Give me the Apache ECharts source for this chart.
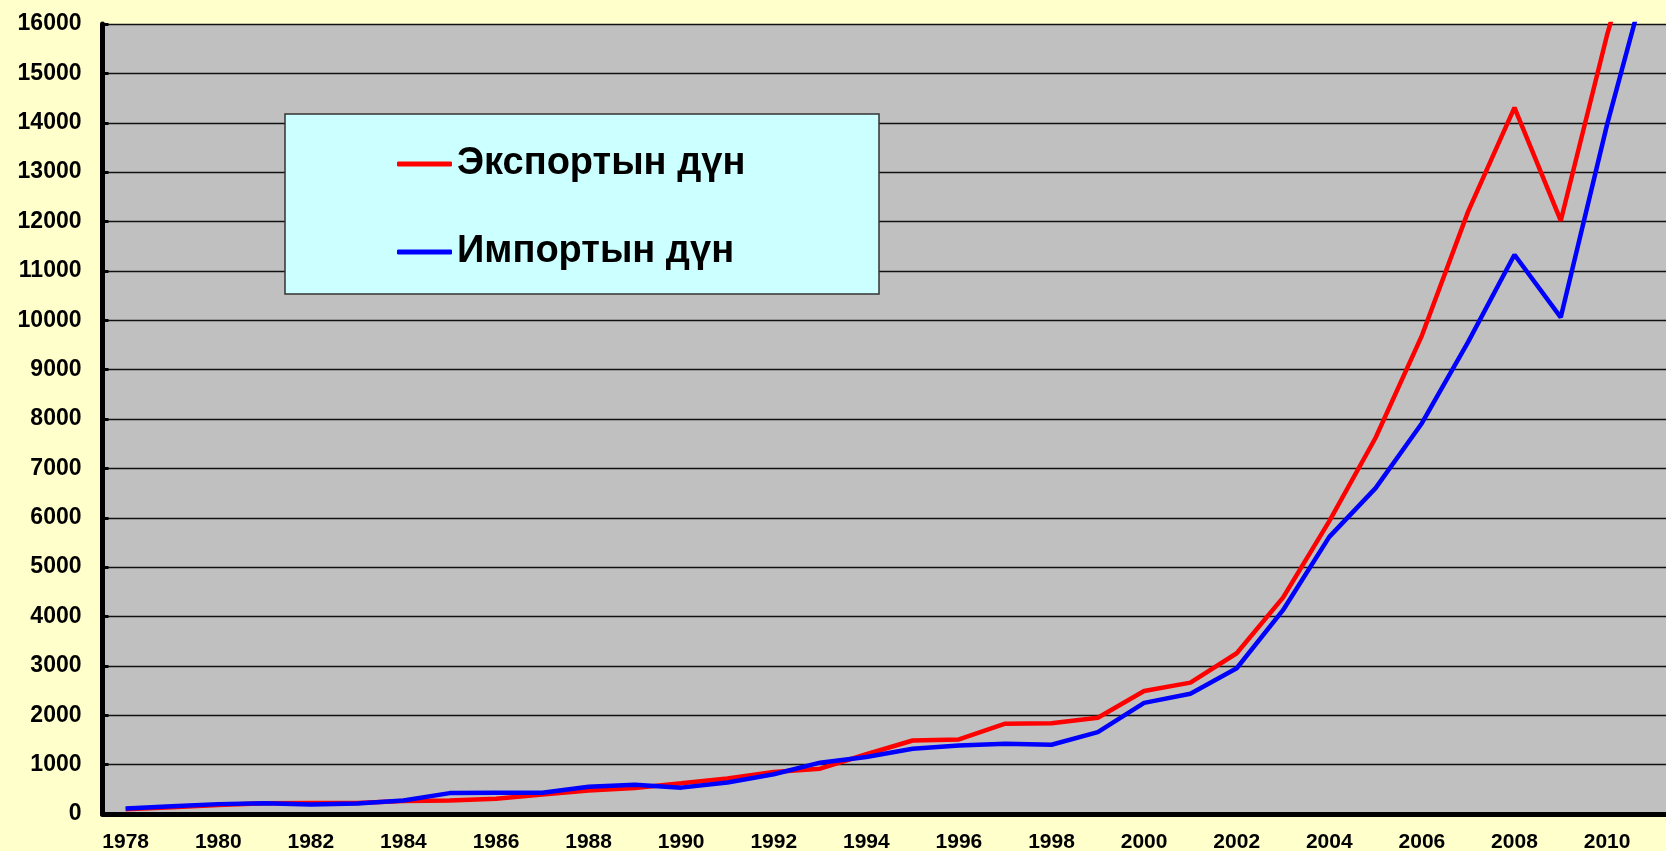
<!DOCTYPE html>
<html>
<head>
<meta charset="utf-8">
<script src="https://cdn.jsdelivr.net/npm/echarts@6/dist/echarts.min.js"></script>
<style>
html,body{margin:0;padding:0;background:#FFFFCC;}
#c{width:1666px;height:851px;}
</style>
</head>
<body>
<div id="c"></div>
<script>
const years = ['1978','1979','1980','1981','1982','1983','1984','1985','1986','1987','1988','1989','1990','1991','1992','1993','1994','1995','1996','1997','1998','1999','2000','2001','2002','2003','2004','2005','2006','2007','2008','2009','2010','2011'];
const exportsVal = [98,137,181,220,223,222,261,274,309,394,475,525,621,719,849,917,1210,1488,1511,1828,1837,1949,2492,2661,3256,4382,5933,7620,9690,12205,14307,12016,15778,18984];
const importsVal = [109,157,200,220,193,214,274,423,429,432,553,591,534,638,806,1040,1156,1321,1388,1424,1402,1657,2251,2436,2952,4128,5612,6600,7915,9561,11326,10059,13962,17435];
const seriesNames = ['Экспортын дүн','Импортын дүн'];
const yTicks = {min:0, max:16000, interval:1000};

const font = '"Liberation Sans", Arial, sans-serif';
const chart = echarts.init(document.getElementById('c'));
chart.setOption({
  backgroundColor:'#FFFFCC',
  animation:false,
  grid:{left:102.5, top:24, bottom:37, width:1574, outerBoundsMode:'none', containLabel:false, show:true, backgroundColor:'#C0C0C0', borderWidth:0},
  graphic:[{type:'rect', z:5, shape:{x:285, y:114, width:594, height:180}, style:{fill:'#CCFFFF', stroke:'#333333', lineWidth:1.5}}],
  legend:{
    z:10, orient:'vertical', left:397, top:141, padding:0, itemWidth:55, itemHeight:5, itemGap:42, icon:'roundRect',
    textStyle:{fontSize:38, fontWeight:'bold', color:'#000', fontFamily:font, lineHeight:46},
    data:seriesNames
  },
  xAxis:{
    type:'category', data:years, boundaryGap:true,
    axisLine:{lineStyle:{color:'#000', width:5}},
    axisTick:{inside:true, length:6, interval:0, lineStyle:{color:'#000', width:3}},
    axisLabel:{interval:1, margin:18, fontSize:21, fontWeight:'bold', color:'#000', fontFamily:font},
    splitLine:{show:false}
  },
  yAxis:{
    type:'value', min:yTicks.min, max:yTicks.max, interval:yTicks.interval,
    axisLine:{show:true, lineStyle:{color:'#000', width:5}},
    axisTick:{show:true, inside:true, length:6, lineStyle:{color:'#000', width:3}},
    axisLabel:{margin:21, fontSize:23, fontWeight:'bold', color:'#000', fontFamily:font, formatter:function(v){return String(v);}},
    splitLine:{lineStyle:{color:'#111', width:1.3}}
  },
  series:[
    {name:seriesNames[0], type:'line', data:exportsVal, color:'#FF0000', showSymbol:false, symbol:'none', clip:true, lineStyle:{width:4.5, color:'#FF0000'}},
    {name:seriesNames[1], type:'line', data:importsVal, color:'#0000FF', showSymbol:false, symbol:'none', clip:true, lineStyle:{width:4.5, color:'#0000FF'}}
  ]
});
</script>
</body>
</html>
